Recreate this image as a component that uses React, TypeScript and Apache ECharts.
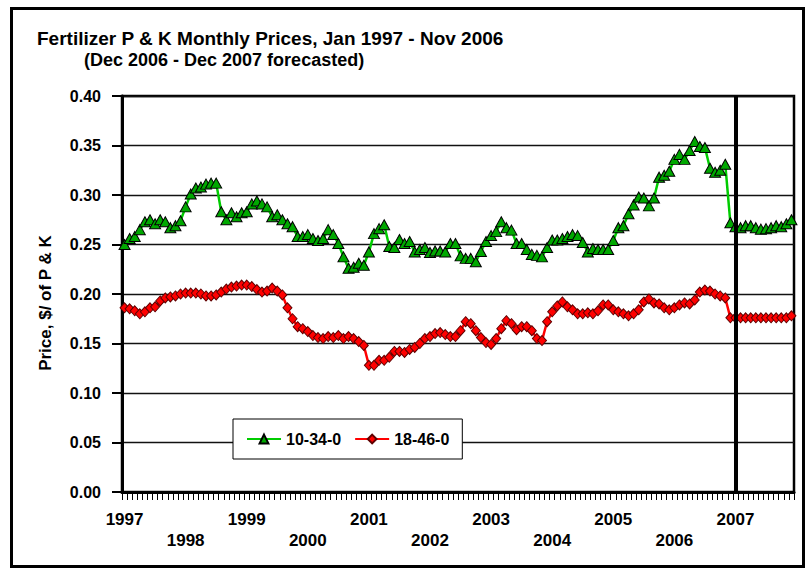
import React, { useEffect, useRef } from "react";
import * as echarts from "echarts";

const YEARS = [1997, 1998, 1999, 2000, 2001, 2002, 2003, 2004, 2005, 2006, 2007];
const MONTHS = ["01", "02", "03", "04", "05", "06", "07", "08", "09", "10", "11", "12"];
const CATEGORIES = YEARS.flatMap((y) => MONTHS.map((m) => `${y}-${m}`));

const SERIES_NAMES = ["10-34-0", "18-46-0"];

const P10_34_0 = [
  0.250, 0.256, 0.258, 0.265, 0.273, 0.275, 0.271, 0.275, 0.273, 0.267, 0.269, 0.274,
  0.288, 0.301, 0.307, 0.308, 0.311, 0.312, 0.312, 0.283, 0.275, 0.282, 0.278, 0.282,
  0.283, 0.291, 0.294, 0.291, 0.288, 0.278, 0.280, 0.275, 0.271, 0.268, 0.258, 0.258,
  0.260, 0.256, 0.254, 0.256, 0.265, 0.260, 0.251, 0.2375, 0.226, 0.227, 0.231, 0.229,
  0.2425, 0.261, 0.266, 0.270, 0.248, 0.247, 0.255, 0.251, 0.253, 0.2425, 0.245, 0.247,
  0.242, 0.2435, 0.2435, 0.2425, 0.251, 0.251, 0.2385, 0.236, 0.236, 0.2325, 0.243, 0.253,
  0.259, 0.263, 0.273, 0.267, 0.2645, 0.251, 0.251, 0.245, 0.240, 0.239, 0.2375, 0.247,
  0.2545, 0.2545, 0.256, 0.258, 0.260, 0.259, 0.252, 0.2425, 0.246, 0.245, 0.245, 0.245,
  0.254, 0.267, 0.269, 0.281, 0.290, 0.298, 0.297, 0.289, 0.297, 0.318, 0.320, 0.324,
  0.336, 0.341, 0.336, 0.345, 0.354, 0.349, 0.348, 0.327, 0.323, 0.325, 0.331, 0.272,
  0.268, 0.267, 0.269, 0.269, 0.267, 0.2655, 0.266, 0.267, 0.269, 0.268, 0.271, 0.275,
];

const P18_46_0 = [
  0.186, 0.185, 0.183, 0.180, 0.182, 0.186, 0.187, 0.193, 0.196, 0.197, 0.198, 0.200,
  0.201, 0.201, 0.201, 0.200, 0.198, 0.198, 0.199, 0.202, 0.205, 0.207, 0.208, 0.209,
  0.209, 0.2075, 0.2045, 0.202, 0.203, 0.206, 0.203, 0.199, 0.186, 0.175, 0.167, 0.165,
  0.162, 0.158, 0.156, 0.155, 0.157, 0.156, 0.158, 0.155, 0.157, 0.155, 0.152, 0.148,
  0.128, 0.128, 0.133, 0.133, 0.136, 0.142, 0.142, 0.141, 0.144, 0.146, 0.150, 0.155,
  0.157, 0.160, 0.161, 0.159, 0.157, 0.157, 0.163, 0.172, 0.170, 0.163, 0.156, 0.151,
  0.149, 0.155, 0.165, 0.173, 0.170, 0.164, 0.167, 0.167, 0.163, 0.155, 0.153, 0.172,
  0.182, 0.188, 0.192, 0.187, 0.184, 0.180, 0.180, 0.181, 0.180, 0.183, 0.189, 0.189,
  0.184, 0.182, 0.180, 0.178, 0.180, 0.184, 0.192, 0.195, 0.191, 0.190, 0.186, 0.184,
  0.186, 0.189, 0.191, 0.190, 0.194, 0.202, 0.204, 0.203, 0.200, 0.198, 0.196, 0.176,
  0.176, 0.176, 0.176, 0.176, 0.176, 0.176, 0.176, 0.176, 0.176, 0.176, 0.176, 0.178,
];

const FORECAST_LINE_AT = "2007-01";
const TITLE = "Fertilizer P & K Monthly Prices, Jan 1997 - Nov 2006";
const SUBTITLE = "(Dec 2006 - Dec 2007 forecasted)";
const Y_NAME = "Price, $/ of P & K";

const FONT = "'Liberation Sans', Arial, Helvetica, sans-serif";

export default function App() {
  const ref = useRef<HTMLDivElement>(null);

  useEffect(() => {
    if (!ref.current) return;
    const chart = echarts.init(ref.current, null, { renderer: "svg" });
    chart.setOption({
      animation: false,
      backgroundColor: "#fff",
      textStyle: { fontFamily: FONT },
      graphic: [
        {
          type: "rect",
          shape: { x: 11.5, y: 8.5, width: 792, height: 558 },
          style: { fill: "none", stroke: "#000", lineWidth: 3 },
          silent: true,
        },
        {
          type: "text",
          x: 37,
          y: 38,
          style: {
            text: TITLE,
            font: `bold 19px ${FONT}`,
            fill: "#000",
            textAlign: "left",
            textVerticalAlign: "middle",
          },
        },
        {
          type: "text",
          x: 84,
          y: 60,
          style: {
            text: SUBTITLE,
            font: `bold 18px ${FONT}`,
            fill: "#000",
            textAlign: "left",
            textVerticalAlign: "middle",
          },
        },
        {
          type: "text",
          x: 45,
          y: 303,
          rotation: Math.PI / 2,
          style: {
            text: Y_NAME,
            font: `bold 17px ${FONT}`,
            fill: "#000",
            textAlign: "center",
            textVerticalAlign: "middle",
          },
        },
      ],
      grid: {
        left: 122,
        right: 13,
        top: 96,
        bottom: 78,
        show: true,
        borderColor: "#000",
        borderWidth: 2.5,
        backgroundColor: "transparent",
      },
      legend: {
        data: SERIES_NAMES,
        left: 233,
        top: 419,
        orient: "horizontal",
        itemWidth: 34,
        itemHeight: 11,
        itemGap: 13,
        padding: [12, 13],
        borderColor: "#000",
        borderWidth: 1,
        backgroundColor: "#fff",
        textStyle: { fontSize: 16, fontWeight: "bold", color: "#000", fontFamily: FONT },
      },
      xAxis: {
        type: "category",
        data: CATEGORIES,
        boundaryGap: true,
        axisLine: { show: true, lineStyle: { color: "#000", width: 3 } },
        axisTick: { show: true, interval: 0, length: 8, lineStyle: { color: "#000", width: 1 } },
        axisLabel: {
          interval: (index: number) => index % 12 === 0,
          formatter: (value: string) => {
            const y = parseInt(value.slice(0, 4), 10);
            return y % 2 === 1 ? String(y) : "\n" + y;
          },
          fontSize: 17,
          fontWeight: "bold",
          color: "#000",
          lineHeight: 21,
          margin: 17,
          fontFamily: FONT,
        },
        splitLine: { show: false },
      },
      yAxis: {
        type: "value",
        min: 0,
        max: 0.4,
        interval: 0.05,
        axisLine: { show: true, lineStyle: { color: "#000", width: 3 } },
        axisTick: { show: true, length: 10, lineStyle: { color: "#000", width: 2 } },
        axisLabel: {
          formatter: (v: number) => v.toFixed(2),
          fontSize: 16,
          fontWeight: "bold",
          color: "#000",
          margin: 21,
          fontFamily: FONT,
        },
        splitLine: { show: true, lineStyle: { color: "#111", width: 1.3 } },
      },
      series: [
        {
          name: SERIES_NAMES[0],
          type: "line",
          data: P10_34_0,
          symbol: "triangle",
          symbolSize: [11, 10],
          showAllSymbol: true,
          lineStyle: { color: "#00cc00", width: 2.5 },
          itemStyle: { color: "#00a800", borderColor: "#000", borderWidth: 1 },
          z: 3,
          markLine: {
            silent: true,
            symbol: ["none", "none"],
            label: { show: false },
            lineStyle: { color: "#000", width: 4, type: "solid" },
            data: [{ xAxis: FORECAST_LINE_AT }],
          },
        },
        {
          name: SERIES_NAMES[1],
          type: "line",
          data: P18_46_0,
          symbol: "diamond",
          symbolSize: [9, 10],
          showAllSymbol: true,
          lineStyle: { color: "#ff0000", width: 2.5 },
          itemStyle: { color: "#ff0000", borderColor: "#600000", borderWidth: 1 },
          z: 4,
        },
      ],
    });
    return () => chart.dispose();
  }, []);

  return (
    <div
      ref={ref}
      style={{ position: "fixed", left: 0, top: 0, width: 807, height: 570 }}
    />
  );
}
